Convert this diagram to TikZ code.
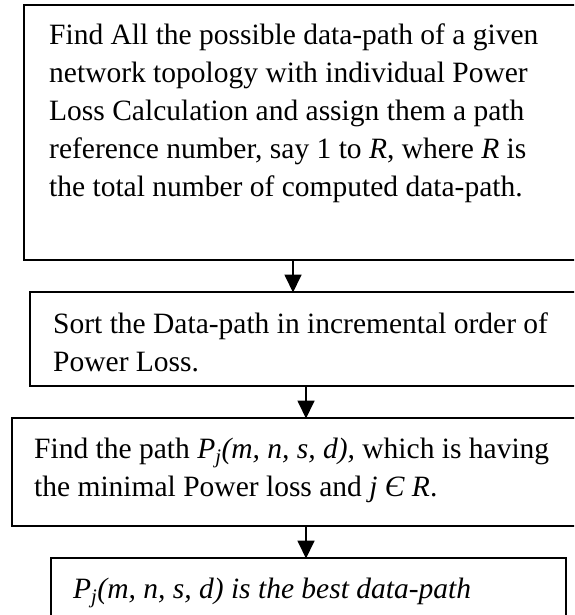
\documentclass[tikz,border=0pt]{standalone}
\usepackage{fontspec}
\setmainfont{Liberation Serif}
\usetikzlibrary{arrows.meta}
% stacked text lines; the base anchor sits on the first baseline
\newcommand\textlines[1]{\vtop{\baselineskip=38pt\lineskiplimit=-100pt\lineskip=0pt
  \halign{##\hfil\cr#1\crcr}}}
\begin{document}
\begin{tikzpicture}[x=1pt,y=-1pt,
  box/.style={draw, line width=1.8pt, rectangle, anchor=north west,
    inner sep=0pt, outer sep=0pt},
  txt/.style={anchor=base west, inner sep=0pt, font=\fontsize{29.5}{38}\selectfont},
  arr/.style={line width=1.8pt, -{Triangle[width=17pt,length=18pt]}, shorten >=-0.5pt}]
\useasboundingbox (0,0) rectangle (574,615);
\clip (0,0) rectangle (574,615);

% process boxes
\node[box, minimum width=590pt, minimum height=255pt] (b1) at (24,5) {};
\node[box, minimum width=590pt, minimum height=94pt]  (b2) at (30,292) {};
\node[box, minimum width=590pt, minimum height=108pt] (b3) at (12,418) {};
\node[box, minimum width=515pt, minimum height=100pt] (b4) at (51,558) {};

% box texts
\node[txt] (t1) at (49,45) {\textlines{Find All the possible data-path of a given\cr
network topology with individual Power\cr
Loss Calculation and assign them a path\cr
reference number, say 1 to \textit{R}, where \textit{R} is\cr
the total number of computed data-path.}};
\node[txt] (t2) at (53,333) {\textlines{Sort the Data-path in incremental order of\cr
Power Loss.}};
\node[txt] (t3) at (34,458) {\textlines{Find the path \textit{P\textsubscript{j}(m, n, s, d),} which is having\cr
the minimal Power loss and \textit{j Є R}.}};
\node[txt] (t4) at (73,598) {\textit{P\textsubscript{j}(m, n, s, d) is the best data-path}};

% flow arrows
\coordinate (a1) at (293,0);
\coordinate (a2) at (306,0);
\draw[arr] (b1.south -| a1) -- (b2.north -| a1);
\draw[arr] (b2.south -| a2) -- (b3.north -| a2);
\draw[arr] (b3.south -| a2) -- (b4.north -| a2);
\end{tikzpicture}
\end{document}
